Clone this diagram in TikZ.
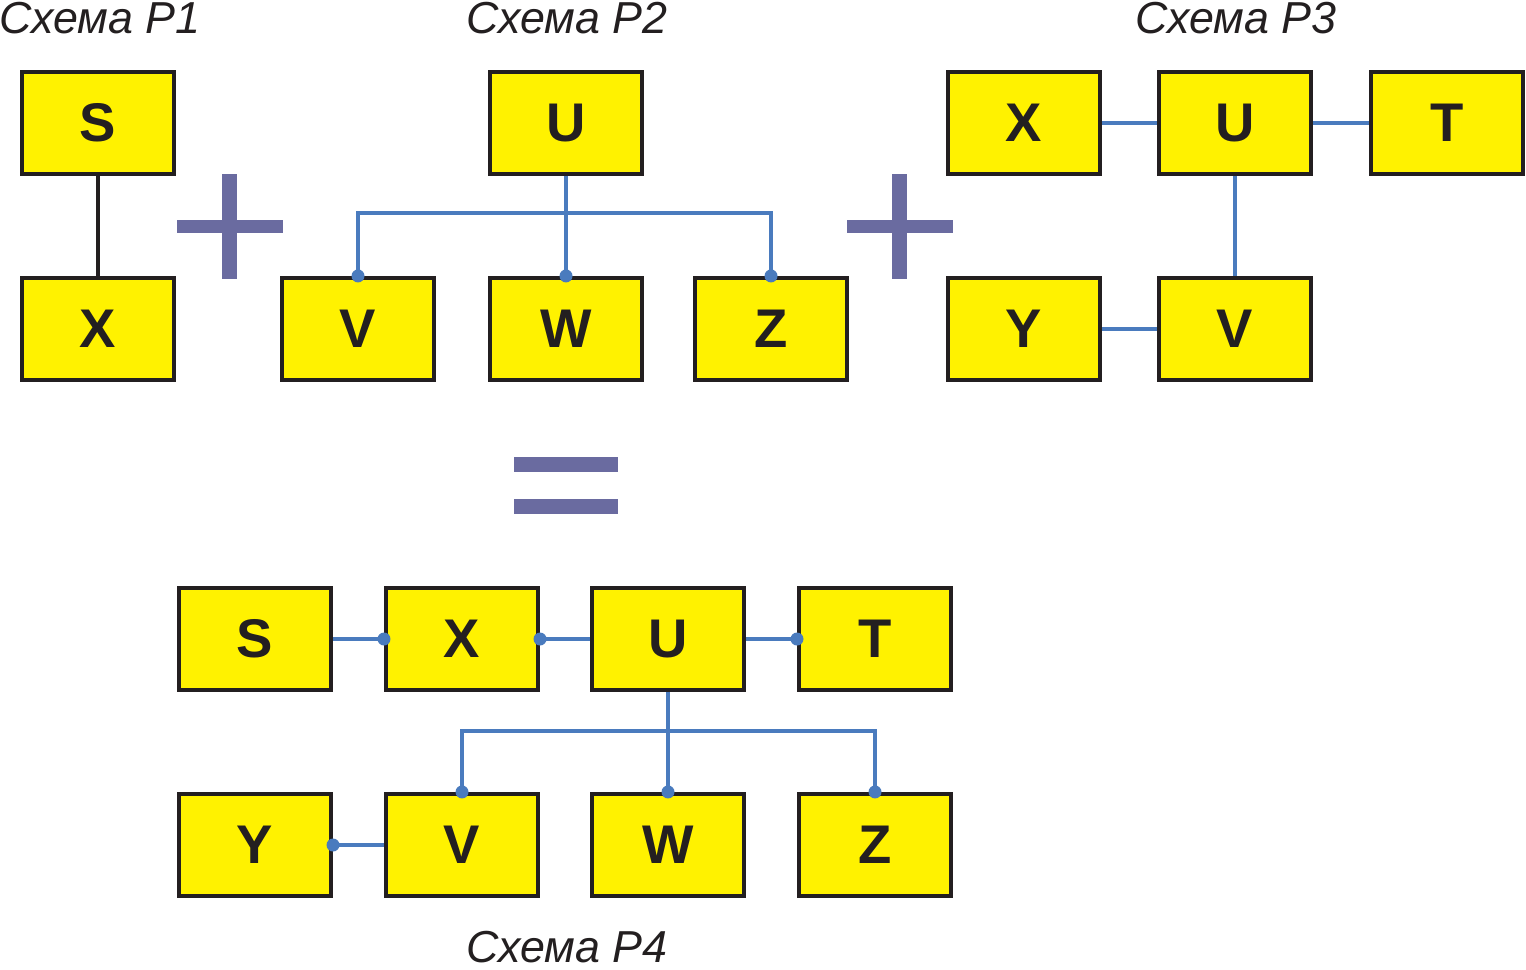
\documentclass[tikz,border=0pt]{standalone}
\usepackage{fontspec}
\setsansfont{Liberation Sans}
\setmainfont{Liberation Sans}
\definecolor{boxyellow}{HTML}{FFF200}
\definecolor{linkblue}{HTML}{4A7BBE}
\definecolor{opcolor}{HTML}{6A6BA0}
\definecolor{inkblack}{HTML}{231F20}
\tikzset{
  unitbox/.style={draw=inkblack, fill=boxyellow, line width=2.3pt, minimum width=3.04cm, minimum height=2.04cm, inner sep=0pt, font=\fontsize{31}{35}\selectfont\bfseries\sffamily, text=inkblack},
  title/.style={anchor=base, font=\fontsize{25.5}{30}\selectfont\itshape\sffamily, text=inkblack, inner sep=0pt},
  blink/.style={draw=linkblue, line width=2.2pt},
  klink/.style={draw=inkblack, line width=2.2pt},
  jdot/.style={fill=linkblue, draw=none},
  opbar/.style={fill=opcolor, draw=none}
}
\begin{document}
\begin{tikzpicture}[x=0.02cm, y=-0.02cm]
\useasboundingbox (0,0) rectangle (1526,970);
% titles
\node[title] (t1) at (100,33) {Схема P1};
\node[title] (t2) at (567,33) {Схема P2};
\node[title] (t3) at (1236,33) {Схема P3};
\node[title] (t4) at (567,962) {Схема P4};
% P1
\node[unitbox] (a1) at (98,123) {S};
\node[unitbox] (a2) at (98,329) {X};
\draw[klink] (a1.south) -- (a2.north);
% plus 1
\fill[opbar] (177,220) rectangle (283,233);
\fill[opbar] (222,174) rectangle (237,279);
% P2
\node[unitbox] (b1) at (566,123) {U};
\node[unitbox] (b2) at (358,329) {V};
\node[unitbox] (b3) at (566,329) {W};
\node[unitbox] (b4) at (771,329) {Z};
\coordinate (bbus) at (566,213);
\draw[blink] (b1.south) -- (b3.north);
\draw[blink] (b2.north) |- (bbus) -| (b4.north);
\fill[jdot] (b2.north) circle (6.5);
\fill[jdot] (b3.north) circle (6.5);
\fill[jdot] (b4.north) circle (6.5);
% plus 2
\fill[opbar] (847,220) rectangle (953,233);
\fill[opbar] (892,174) rectangle (907,279);
% P3
\node[unitbox] (c1) at (1024,123) {X};
\node[unitbox] (c2) at (1235,123) {U};
\node[unitbox] (c3) at (1447,123) {T};
\node[unitbox] (c4) at (1024,329) {Y};
\node[unitbox] (c5) at (1235,329) {V};
\draw[blink] (c1.east) -- (c2.west);
\draw[blink] (c2.east) -- (c3.west);
\draw[blink] (c2.south) -- (c5.north);
\draw[blink] (c4.east) -- (c5.west);
% equals
\fill[opbar] (514,457) rectangle (618,472);
\fill[opbar] (514,499) rectangle (618,514);
% P4
\node[unitbox] (d1) at (255,639) {S};
\node[unitbox] (d2) at (462,639) {X};
\node[unitbox] (d3) at (668,639) {U};
\node[unitbox] (d4) at (875,639) {T};
\node[unitbox] (d5) at (255,845) {Y};
\node[unitbox] (d6) at (462,845) {V};
\node[unitbox] (d7) at (668,845) {W};
\node[unitbox] (d8) at (875,845) {Z};
\coordinate (dbus) at (668,731);
\draw[blink] (d1.east) -- (d2.west);
\draw[blink] (d2.east) -- (d3.west);
\draw[blink] (d3.east) -- (d4.west);
\draw[blink] (d3.south) -- (d7.north);
\draw[blink] (d6.north) |- (dbus) -| (d8.north);
\draw[blink] (d5.east) -- (d6.west);
\fill[jdot] (d2.west) circle (6.5);
\fill[jdot] (d2.east) circle (6.5);
\fill[jdot] (d4.west) circle (6.5);
\fill[jdot] (d6.north) circle (6.5);
\fill[jdot] (d7.north) circle (6.5);
\fill[jdot] (d8.north) circle (6.5);
\fill[jdot] (d5.east) circle (6.5);
\end{tikzpicture}
\end{document}
